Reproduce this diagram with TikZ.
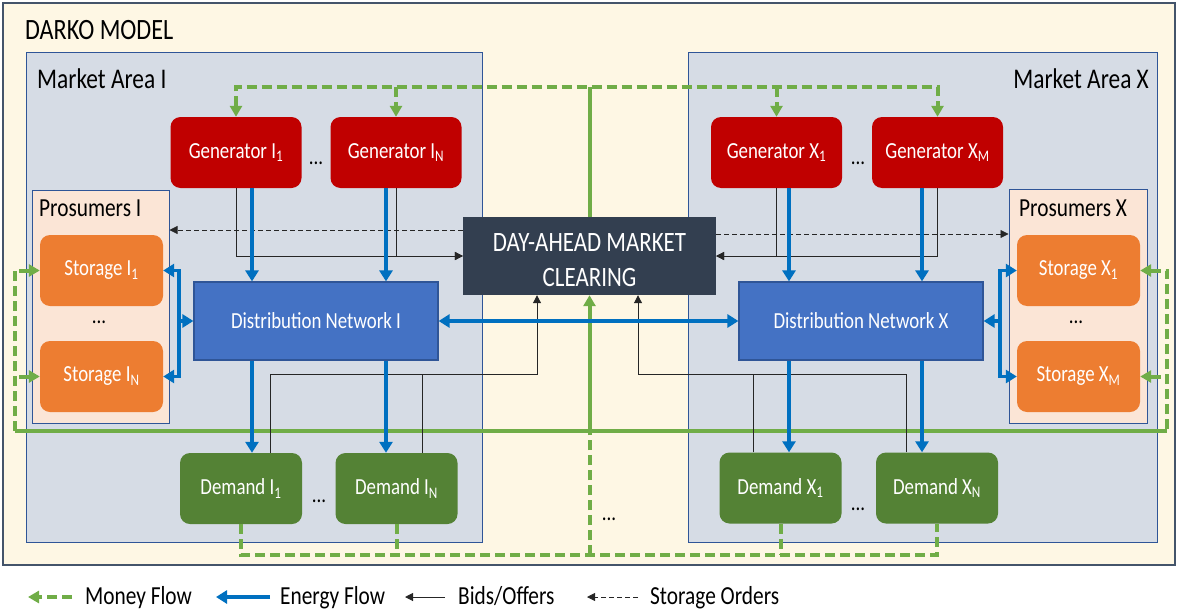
\documentclass[tikz,border=0pt]{standalone}
\usepackage{fontspec}
\setmainfont{Carlito}[FakeStretch=0.82]
\usetikzlibrary{arrows.meta,positioning}
\definecolor{cream}{HTML}{FEF7E4}
\definecolor{areafill}{HTML}{D6DCE5}
\definecolor{prosfill}{HTML}{FBE5D6}
\definecolor{framecol}{HTML}{2F5597}
\definecolor{outercol}{HTML}{44546A}
\definecolor{genred}{HTML}{C00000}
\definecolor{storeorange}{HTML}{ED7D31}
\definecolor{netblue}{HTML}{4472C4}
\definecolor{damdark}{HTML}{333F50}
\definecolor{demgreen}{HTML}{548235}
\definecolor{moneygreen}{HTML}{70AD47}
\definecolor{energyblue}{HTML}{0070C0}
\tikzset{
  unit/.style={rectangle,rounded corners=10pt,text=white,inner sep=0pt,
    font=\fontsize{23}{26}\selectfont},
  gen/.style={unit,fill=genred,minimum width=131pt,minimum height=71pt},
  store/.style={unit,fill=storeorange,minimum width=123pt,minimum height=71pt},
  demand/.style={unit,fill=demgreen,minimum width=122pt,minimum height=71pt},
  network/.style={unit,sharp corners,draw=framecol,line width=1.2pt,fill=netblue,
    minimum width=244pt,minimum height=78pt},
  market/.style={rectangle,fill=damdark,text=white,align=center,inner sep=0pt,
    minimum width=253pt,minimum height=78pt,font=\fontsize{28}{35}\selectfont},
  area/.style={rectangle,draw=framecol,line width=1pt,fill=areafill,inner sep=0pt},
  pros/.style={rectangle,draw=framecol,line width=1pt,fill=prosfill,inner sep=0pt},
  lbl/.style={inner sep=0pt,text=black},
  dots/.style={inner sep=0pt,font=\fontsize{23}{26}\selectfont},
  legend/.style={inner sep=0pt,font=\fontsize{26}{30}\selectfont},
  energy/.style={draw=energyblue,line width=3.5pt,>={Triangle[width=13pt,length=11pt]}},
  money/.style={draw=moneygreen,line width=4pt,dash pattern=on 10pt off 5pt,
    >={Triangle[width=12pt,length=11pt]}},
  moneysolid/.style={money,solid},
  bid/.style={draw=black!85,line width=1pt,>={Triangle[width=8pt,length=8pt]}},
  order/.style={bid,line width=0.8pt,dash pattern=on 5pt off 3pt}
}
\begin{document}
\begin{tikzpicture}[x=1pt,y=-1pt]
\useasboundingbox (0,0) rectangle (1177,613);
%frames
\node[rectangle,draw=outercol,line width=1.5pt,fill=cream,inner sep=0pt,
  minimum width=1172pt,minimum height=562pt] (darko) at (589,284) {};
\node[area,minimum width=456pt,minimum height=490pt] (areaI) at (254,297) {};
\node[area,minimum width=469pt,minimum height=490pt] (areaX) at (922.5,297) {};
\node[pros,minimum width=137pt,minimum height=233pt] (prosI) at (100.5,306.5) {};
\node[pros,minimum width=138pt,minimum height=234pt] (prosX) at (1078,306) {};
%labels
\node[lbl,anchor=base west,font=\fontsize{29.5}{32}\selectfont] (title) at (25,39) {DARKO MODEL};
\node[lbl,anchor=base west,font=\fontsize{28.5}{32}\selectfont] (labI) at (37,88) {Market Area I};
\node[lbl,anchor=base east,font=\fontsize{28.5}{32}\selectfont] (labX) at (1149,88) {Market Area X};
\node[lbl,anchor=base west,font=\fontsize{26}{30}\selectfont] (labPI) at (39,216) {Prosumers I};
\node[lbl,anchor=base west,font=\fontsize{26}{30}\selectfont] (labPX) at (1019,216) {Prosumers X};
%units
\node[gen] (genI1) at (236,152.5) {Generator I\textsubscript{1}};
\node[gen] (genIN) at (396,152.5) {Generator I\textsubscript{N}};
\node[gen] (genX1) at (776.5,152.5) {Generator X\textsubscript{1}};
\node[gen] (genXM) at (937.5,152.5) {Generator X\textsubscript{M}};
\node[store] (stI1) at (101.5,270.5) {Storage I\textsubscript{1}};
\node[store] (stIN) at (101.5,376.5) {Storage I\textsubscript{N}};
\node[store] (stX1) at (1078.5,270.5) {Storage X\textsubscript{1}};
\node[store] (stXM) at (1078.5,376.5) {Storage X\textsubscript{M}};
\node[network] (netI) at (316,321) {Distribution Network I};
\node[network] (netX) at (861,321) {Distribution Network X};
\node[market] (dam) at (589.5,256) {\rule{0pt}{26pt}DAY-AHEAD MARKET\\CLEARING};
\node[demand] (dmI1) at (241,488.5) {Demand I\textsubscript{1}};
\node[demand] (dmIN) at (396.5,488.5) {Demand I\textsubscript{N}};
\node[demand] (dmX1) at (780.5,488) {Demand X\textsubscript{1}};
\node[demand] (dmXN) at (937,488) {Demand X\textsubscript{N}};
%dots
\node[dots,anchor=base] (dotsGI) at (316,164) {...};
\node[dots,anchor=base] (dotsGX) at (858,164) {...};
\node[dots,anchor=base] (dotsSI) at (99,323) {...};
\node[dots,anchor=base] (dotsSX) at (1076,323) {...};
\node[dots,anchor=base] (dotsDI) at (319,502) {...};
\node[dots,anchor=base] (dotsDX) at (858,510) {...};
\node[dots,anchor=base] (dotsM) at (609,520) {...};
%money flow
\coordinate (mtop) at (0,87);
\coordinate (mline) at (0,431);
\coordinate (mbot) at (0,555);
\coordinate (mleft) at (15,431);
\coordinate (mright) at (1167,431);
\draw[money,<->] (genI1.north) -- (genI1.north |- mtop) -| (genXM.north);
\foreach \g in {genIN,genX1} \draw[money,->] (\g.north |- mtop) -- (\g.north);
\draw[moneysolid] (dam.north |- mtop) -- (dam.north);
\draw[moneysolid] (mleft) -- (mright);
\draw[moneysolid,->] (dam.south |- mline) -- (dam.south);
\draw[money] (dam.south |- mbot) -- (dam.south |- mline);
\draw[money] (dmI1.south) -- (dmI1.south |- mbot) -| (dmXN.south);
\foreach \d in {dmIN,dmX1} \draw[money] (\d.south) -- (\d.south |- mbot);
\draw[money,<-] (stI1.west) -| (mleft);
\draw[money,<-] (stIN.west) -- (stIN.west -| mleft);
\draw[money,<-] (stX1.east) -| (mright);
\draw[money,<-] (stXM.east) -- (stXM.east -| mright);
%storage orders
\coordinate (oI) at ([yshift=26pt]dam.west);
\coordinate (oX) at ([yshift=22pt]dam.east);
\draw[order,->] (oI) -- (oI -| prosI.east);
\draw[order,->] (oX) -- (oX -| prosX.west);
%bids and offers
\foreach \g in {genI1,genIN} \draw[bid,->] (\g.south) |- (dam.west);
\foreach \g in {genX1,genXM} \draw[bid,->] (\g.south) |- (dam.east);
\coordinate (bI) at ([xshift=-52.5pt]dam.south);
\coordinate (bX) at ([xshift=48.5pt]dam.south);
\coordinate (bline) at (0,374);
\draw[bid,->] ([xshift=29pt]dmI1.north) |- (bI |- bline) -- (bI);
\draw[bid] ([xshift=25.5pt]dmIN.north) |- (bI |- bline);
\draw[bid,->] ([xshift=-31pt]dmXN.north) |- (bX |- bline) -- (bX);
\draw[bid] ([xshift=-27.5pt]dmX1.north) |- (bX |- bline);
%energy flow
\coordinate (eI1) at ([xshift=16pt]genI1.south);
\coordinate (eIN) at ([xshift=-10pt]genIN.south);
\coordinate (eX1) at ([xshift=12.5pt]genX1.south);
\coordinate (eXM) at ([xshift=-15.5pt]genXM.south);
\foreach \e/\d in {eI1/dmI1,eIN/dmIN}
{
\draw[energy,->] (\e) -- (\e |- netI.north);
\draw[energy,->] (\e |- netI.south) -- (\e |- \d.north);
}
\foreach \e/\d in {eX1/dmX1,eXM/dmXN}
{
\draw[energy,->] (\e) -- (\e |- netX.north);
\draw[energy,->] (\e |- netX.south) -- (\e |- \d.north);
}
\coordinate (eSI) at (179,321);
\coordinate (eSX) at (1000,321);
\draw[energy,<->] (stI1.east) -| (eSI |- stIN.east) -- (stIN.east);
\draw[energy,->] (eSI) -- (netI.west);
\draw[energy,<->] (stX1.west) -| (eSX |- stXM.west) -- (stXM.west);
\draw[energy,->] (eSX) -- (netX.east);
\draw[energy,<->] (netI.east) -- (netX.west);
%legend
\node[legend,anchor=base west] (lgMoney) at (85,604) {Money Flow};
\node[legend,anchor=base west] (lgEnergy) at (280,604) {Energy Flow};
\node[legend,anchor=base west] (lgBids) at (458,604) {Bids/Offers};
\node[legend,anchor=base west] (lgOrders) at (650,604) {Storage Orders};
\draw[money,->] ([xshift=-13pt,yshift=7pt]lgMoney.base west) -- ++(-44,0);
\draw[energy,->] ([xshift=-10pt,yshift=7pt]lgEnergy.base west) -- ++(-54,0);
\draw[bid,->] ([xshift=-13pt,yshift=7pt]lgBids.base west) -- ++(-40,0);
\draw[order,->] ([xshift=-12pt,yshift=7pt]lgOrders.base west) -- ++(-51,0);
\end{tikzpicture}
\end{document}
